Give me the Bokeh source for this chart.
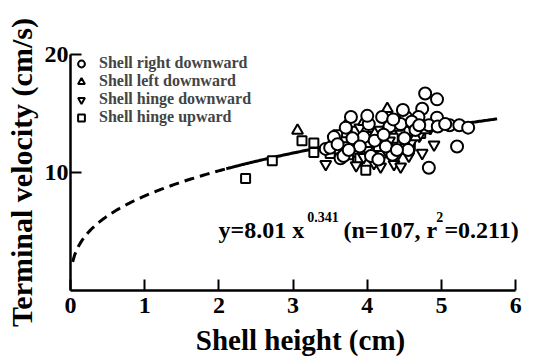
import numpy as np
from bokeh.plotting import figure
from bokeh.models import FixedTicker, Legend, LegendItem, Label, Range1d
from bokeh.embed import file_html
from bokeh.resources import INLINE

# ---- data ----
right_down_x = [3.44, 3.64, 3.78, 4.78, 4.94, 4.74, 4.69, 4.20, 4.02, 4.52, 4.94, 5.11, 5.24, 5.36,
                5.21, 4.83, 3.71, 4.34, 3.68, 4.83, 3.55, 3.50, 3.85, 3.95, 4.05, 4.10, 4.25, 4.30,
                4.45, 4.50, 4.60, 4.65, 4.55, 4.00, 3.80, 3.60, 4.40, 4.15, 4.70, 4.95, 5.05, 3.90,
                4.35, 3.75, 4.22, 4.48]
right_down_y = [12.0, 11.2, 14.7, 16.7, 16.2, 15.4, 14.7, 14.7, 14.1, 14.7, 14.65, 14.0, 14.0, 13.8,
                12.2, 10.4, 13.8, 11.5, 11.4, 14.0, 13.0, 12.1, 12.5, 13.0, 11.4, 12.7, 12.2, 13.9,
                14.1, 12.9, 14.3, 13.6, 11.9, 14.8, 12.9, 12.4, 11.9, 11.1, 14.0, 13.9, 14.1, 12.2,
                14.5, 11.9, 13.2, 15.3]

left_down_x = [3.06, 4.27, 3.95, 4.65, 3.70, 4.40, 4.10, 3.55, 4.78]
left_down_y = [13.55, 15.4, 14.3, 13.0, 13.9, 13.8, 13.3, 12.4, 13.6]

hinge_down_x = [3.44, 4.90, 4.74, 4.56, 4.36, 4.09, 4.18, 4.45, 4.85, 3.80, 3.95, 4.25, 4.60, 4.00,
                3.70, 4.30, 3.85, 4.60, 4.40, 4.70, 3.90, 4.15]
hinge_down_y = [10.7, 12.35, 11.65, 11.4, 10.7, 10.8, 10.5, 10.5, 13.75, 12.0, 11.3, 11.9, 12.6, 11.9,
                12.3, 12.7, 10.6, 13.9, 11.4, 13.1, 13.8, 13.6]

hinge_up_x = [2.36, 2.72, 3.12, 3.28, 3.28, 3.60, 3.60, 3.71, 3.75, 3.87, 3.98, 3.95, 4.02, 4.04,
              4.10, 4.18, 4.20, 4.25, 4.31, 4.40, 4.45, 4.50, 4.56, 4.58, 4.72, 3.85, 3.50, 4.15,
              3.90, 4.35]
hinge_up_y = [9.5, 11.0, 12.7, 12.5, 11.7, 13.2, 12.0, 12.6, 11.5, 10.95, 10.2, 12.0, 12.35, 13.05,
              11.8, 12.9, 11.65, 13.5, 14.3, 12.5, 13.3, 12.0, 13.5, 12.2, 13.3, 13.5, 11.6, 12.2,
              11.2, 12.9]

fit_a = 8.01
fit_b = 0.341
fit_dashed_range = [0.03, 2.1]
fit_solid_range = [2.1, 5.75]

x_ticks = [0, 1, 2, 3, 4, 5, 6]
y_ticks = [10, 20]

FONT = "Liberation Serif"

p = figure(width=548, height=358, output_backend="svg", toolbar_location=None,
           x_range=Range1d(0, 6.2), y_range=Range1d(0, 20),
           min_border_left=70, min_border_right=18, min_border_top=54, min_border_bottom=66)
p.outline_line_color = None
p.xgrid.visible = False
p.ygrid.visible = False
p.background_fill_color = "white"
p.border_fill_color = "white"

# fit curve
xd = np.linspace(fit_dashed_range[0], fit_dashed_range[1], 200)
xs = np.linspace(fit_solid_range[0], fit_solid_range[1], 200)
p.line(xd, fit_a * xd ** fit_b, line_color="black", line_width=3, line_dash="10 6")
p.line(xs, fit_a * xs ** fit_b, line_color="black", line_width=3)

common = dict(line_color="black", line_width=2, fill_color="white")
r_sq = p.scatter(hinge_up_x, hinge_up_y, marker="square", size=9, **common)
r_td = p.scatter(hinge_down_x, hinge_down_y, marker="inverted_triangle", size=11, **common)
r_tu = p.scatter(left_down_x, left_down_y, marker="triangle", size=11, **common)
r_c = p.scatter(right_down_x, right_down_y, marker="circle", size=12, **common)

legend = Legend(items=[
    LegendItem(label="Shell right downward", renderers=[r_c]),
    LegendItem(label="Shell left downward", renderers=[r_tu]),
    LegendItem(label="Shell hinge downward", renderers=[r_td]),
    LegendItem(label="Shell hinge upward", renderers=[r_sq]),
], location="top_left")
legend.border_line_color = None
legend.background_fill_alpha = 0
legend.margin = 0
legend.padding = 7
legend.spacing = 0
legend.glyph_width = 22
legend.glyph_height = 17
legend.label_height = 17
legend.label_standoff = 7
legend.label_text_font = FONT
legend.label_text_font_style = "bold"
legend.label_text_font_size = "16px"
legend.label_text_line_height = 1.0
p.add_layout(legend)

# axes
for ax in (p.xaxis[0], p.yaxis[0]):
    ax.axis_line_width = 2.5
    ax.axis_line_color = "black"
    ax.major_tick_line_width = 2
    ax.major_tick_in = 11
    ax.major_tick_out = 0
    ax.minor_tick_line_color = None
    ax.major_label_text_font = FONT
    ax.major_label_text_font_style = "bold"
    ax.major_label_text_font_size = "24px"
    ax.axis_label_text_font = FONT
    ax.axis_label_text_font_style = "bold"
    ax.axis_label_text_color = "black"
    ax.major_label_text_color = "black"

p.xaxis.bounds = (0, 6)
p.xaxis.axis_label_text_font_size = "29px"
p.yaxis.axis_label_text_font_size = "30px"
p.xaxis.ticker = FixedTicker(ticks=x_ticks)
p.yaxis.ticker = FixedTicker(ticks=y_ticks)
p.xaxis.axis_label = "Shell height (cm)"
p.yaxis.axis_label = "Terminal velocity (cm/s)"
p.xaxis.major_label_standoff = 7
p.yaxis.major_label_standoff = 2
p.xaxis.axis_label_standoff = 8
p.yaxis.axis_label_standoff = 4

# equation annotation
lab = dict(text_font=FONT, text_font_style="bold", text_color="black", text_baseline="alphabetic")
p.add_layout(Label(x=1.995, y=5.13, text="y=8.01 x", text_font_size="24px", **lab))
p.add_layout(Label(x=3.19, y=6.2, text="0.341", text_font_size="14px", **lab))
p.add_layout(Label(x=3.68, y=5.13, text="(n=107, r", text_font_size="24px", **lab))
p.add_layout(Label(x=4.93, y=6.2, text="2", text_font_size="14px", **lab))
p.add_layout(Label(x=5.04, y=5.13, text="=0.211)", text_font_size="24px", **lab))

open("out.html", "w").write(file_html(p, INLINE))
